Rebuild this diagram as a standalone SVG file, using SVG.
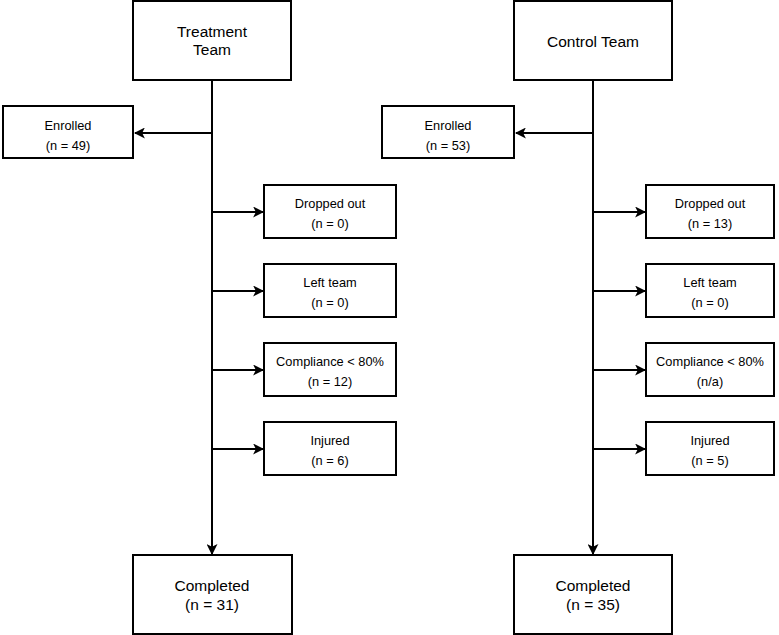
<svg xmlns="http://www.w3.org/2000/svg" width="779" height="635" viewBox="0 0 779 635">
<defs>
<marker id="arr" viewBox="0 0 10 10" refX="9" refY="5" markerWidth="11" markerHeight="11" markerUnits="userSpaceOnUse" orient="auto">
<path d="M0,0 L10,5 L0,10 L2.5,5 Z" fill="#000"/>
</marker>
</defs>
<style>
.box{fill:#fff;stroke:#000;stroke-width:2}
.big{font-family:"Liberation Sans",Arial,sans-serif;font-size:15.5px;text-anchor:middle;fill:#000}
.sm{font-family:"Liberation Sans",Arial,sans-serif;font-size:12.8px;text-anchor:middle;fill:#000}
.ln{stroke:#000;stroke-width:2;fill:none}
</style>
<rect width="779" height="635" fill="#fff"/>
<g id="connectors">
<path class="ln" d="M212,80 V554" marker-end="url(#arr)"/>
<path class="ln" d="M212,133 H135" marker-end="url(#arr)"/>
<path class="ln" d="M212,212 H263" marker-end="url(#arr)"/>
<path class="ln" d="M212,291 H263" marker-end="url(#arr)"/>
<path class="ln" d="M212,370 H263" marker-end="url(#arr)"/>
<path class="ln" d="M212,449 H263" marker-end="url(#arr)"/>
<path class="ln" d="M593,80 V554" marker-end="url(#arr)"/>
<path class="ln" d="M593,133 H516" marker-end="url(#arr)"/>
<path class="ln" d="M593,212 H645" marker-end="url(#arr)"/>
<path class="ln" d="M593,291 H645" marker-end="url(#arr)"/>
<path class="ln" d="M593,370 H645" marker-end="url(#arr)"/>
<path class="ln" d="M593,449 H645" marker-end="url(#arr)"/>
</g>
<g id="treatment-team"><rect class="box" x="133" y="1" width="158" height="79"/><text class="big" x="212" y="37">Treatment</text><text class="big" x="212" y="55">Team</text></g>
<g id="t-enrolled"><rect class="box" x="3" y="106" width="130" height="52"/><text class="sm" x="68" y="130">Enrolled</text><text class="sm" x="68" y="150">(n = 49)</text></g>
<g id="t-dropped"><rect class="box" x="264" y="185" width="132" height="53"/><text class="sm" x="330" y="208">Dropped out</text><text class="sm" x="330" y="228">(n = 0)</text></g>
<g id="t-left"><rect class="box" x="264" y="264" width="132" height="53"/><text class="sm" x="330" y="287">Left team</text><text class="sm" x="330" y="307">(n = 0)</text></g>
<g id="t-compliance"><rect class="box" x="264" y="343" width="132" height="53"/><text class="sm" x="330" y="366">Compliance &lt; 80%</text><text class="sm" x="330" y="386">(n = 12)</text></g>
<g id="t-injured"><rect class="box" x="264" y="422" width="132" height="53"/><text class="sm" x="330" y="445">Injured</text><text class="sm" x="330" y="465">(n = 6)</text></g>
<g id="t-completed"><rect class="box" x="133" y="555" width="159" height="79"/><text class="big" x="212" y="591">Completed</text><text class="big" x="212" y="610">(n = 31)</text></g>
<g id="control-team"><rect class="box" x="514" y="1" width="158" height="79"/><text class="big" x="593" y="47">Control Team</text></g>
<g id="c-enrolled"><rect class="box" x="382" y="106" width="132" height="52"/><text class="sm" x="448" y="130">Enrolled</text><text class="sm" x="448" y="150">(n = 53)</text></g>
<g id="c-dropped"><rect class="box" x="646" y="185" width="128" height="53"/><text class="sm" x="710" y="208">Dropped out</text><text class="sm" x="710" y="228">(n = 13)</text></g>
<g id="c-left"><rect class="box" x="646" y="264" width="128" height="53"/><text class="sm" x="710" y="287">Left team</text><text class="sm" x="710" y="307">(n = 0)</text></g>
<g id="c-compliance"><rect class="box" x="646" y="343" width="128" height="53"/><text class="sm" x="710" y="366">Compliance &lt; 80%</text><text class="sm" x="710" y="386">(n/a)</text></g>
<g id="c-injured"><rect class="box" x="646" y="422" width="128" height="53"/><text class="sm" x="710" y="445">Injured</text><text class="sm" x="710" y="465">(n = 5)</text></g>
<g id="c-completed"><rect class="box" x="514" y="555" width="158" height="79"/><text class="big" x="593" y="591">Completed</text><text class="big" x="593" y="610">(n = 35)</text></g>
</svg>
